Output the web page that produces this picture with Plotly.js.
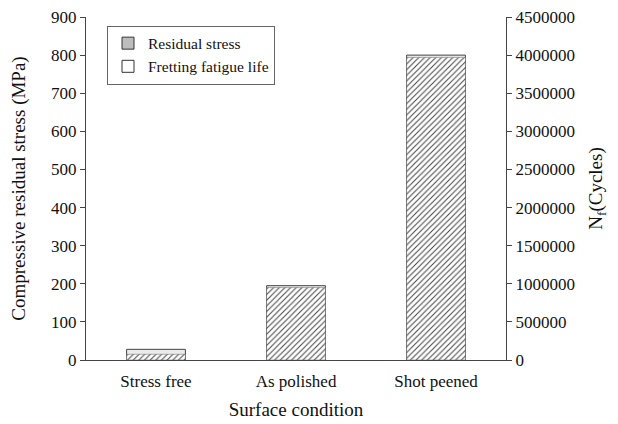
<!DOCTYPE html>
<html>
<head>
<meta charset="utf-8">
<script src="https://cdn.plot.ly/plotly-3.0.1.min.js"></script>
<style>html,body{margin:0;padding:0;background:#fff;}#chart{width:618px;height:424px;}</style>
</head>
<body>
<div id="chart"></div>
<script>
const categories = ["Stress free", "As polished", "Shot peened"];
const residualStress = [28, 195, 800];          // MPa (left axis)
const fatigueLife = [75000, 950000, 3970000];   // cycles (right axis)
const leftTicks = [0, 100, 200, 300, 400, 500, 600, 700, 800, 900];
const rightTicks = [0, 500000, 1000000, 1500000, 2000000, 2500000, 3000000, 3500000, 4000000, 4500000];

const fam = "Liberation Serif, Times New Roman, serif";
const tickFont = {family: fam, size: 17, color: "#111"};
const titleFont = {family: fam, size: 19, color: "#111"};
const legendFont = {family: fam, size: 15.5, color: "#111"};

const traces = [
  {
    type: "bar", x: categories, y: residualStress, yaxis: "y", name: "Residual stress",
    showlegend: false, width: 0.42,
    marker: {color: "#ebebeb", line: {color: "#444", width: 1}},
    hoverinfo: "skip"
  },
  {
    type: "bar", x: categories, y: fatigueLife, yaxis: "y2", name: "Fretting fatigue life",
    showlegend: false, width: 0.42,
    marker: {color: "white", line: {color: "#666", width: 0.5},
      pattern: {shape: "/", bgcolor: "white", fgcolor: "#444", size: 4, solidity: 0.25}},
    hoverinfo: "skip"
  },
  {
    type: "bar", x: categories, y: [null, null, null], name: "Residual stress",
    legendgroup: "a", marker: {color: "#bdbdbd", line: {color: "#333", width: 1}}
  },
  {
    type: "bar", x: categories, y: [null, null, null], name: "Fretting fatigue life",
    legendgroup: "b", marker: {color: "white", line: {color: "#333", width: 1}}
  }
];

const layout = {
  width: 618, height: 424,
  margin: {l: 86, r: 112, t: 17, b: 64},
  paper_bgcolor: "white", plot_bgcolor: "white",
  font: tickFont,
  barmode: "overlay",
  showlegend: true,
  legend: {
    x: 0.05, y: 0.975, xanchor: "left", yanchor: "top",
    bordercolor: "#666", borderwidth: 1, bgcolor: "white",
    font: legendFont, itemwidth: 30, tracegroupgap: 0, traceorder: "grouped"
  },
  xaxis: {
    type: "category", showline: true, linecolor: "#444", linewidth: 1,
    ticks: "", showgrid: false, zeroline: false,
    tickfont: tickFont, ticklabelstandoff: 6,
    title: {text: "Surface condition", font: titleFont, standoff: 12}
  },
  yaxis: {
    range: [0, 900], tickvals: leftTicks, ticks: "outside", ticklen: 5, tickcolor: "#444",
    showline: true, linecolor: "#444", linewidth: 1, showgrid: false, zeroline: false,
    tickfont: tickFont,
    title: {text: "Compressive residual stress (MPa)", font: titleFont, standoff: 20}
  },
  yaxis2: {
    overlaying: "y", side: "right",
    range: [0, 4500000], tickvals: rightTicks, tickformat: "d",
    ticks: "outside", ticklen: 5, tickcolor: "#444",
    showline: true, linecolor: "#444", linewidth: 1, showgrid: false, zeroline: false,
    tickfont: tickFont,
    title: {text: "N<sub>f</sub>(Cycles)", font: titleFont, standoff: 14}
  }
};

Plotly.newPlot("chart", traces, layout, {staticPlot: true, displayModeBar: false});
</script>
</body>
</html>
